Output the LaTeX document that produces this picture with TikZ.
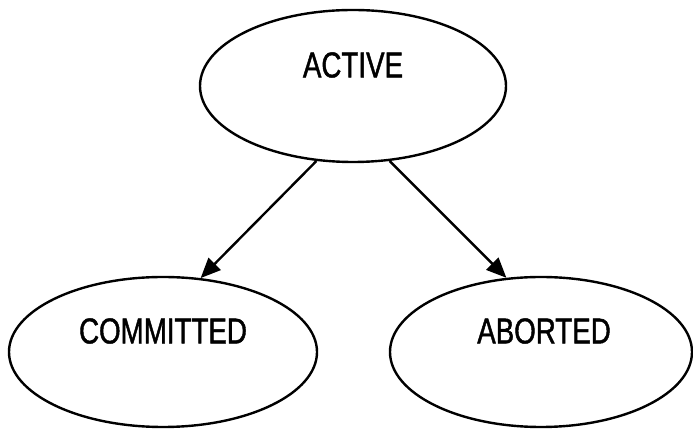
\documentclass[tikz,border=0pt]{standalone}
\usepackage{fontspec}
\newfontfamily\statefont[FakeStretch=0.77,FakeBold=1.2]{Liberation Sans}
\usetikzlibrary{shapes.geometric,arrows.meta}
\begin{document}
\begin{tikzpicture}[x=1pt,y=1pt,
  statebox/.style={draw, ellipse, line width=2.4pt, inner sep=0pt},
  statelabel/.style={font=\statefont\fontsize{36}{36}\selectfont, inner sep=0pt},
  trans/.style={line width=2.4pt, -{Triangle[length=20pt,width=17pt]}}]
  \useasboundingbox (0,0) rectangle (693,430);
  % states
  \node[statebox, minimum width=306pt, minimum height=152pt] (active) at (353,344) {};
  \node[statebox, minimum width=308pt, minimum height=150pt] (committed) at (163,78) {};
  \node[statebox, minimum width=302pt, minimum height=150pt] (aborted) at (541,78) {};
  % state names, set above the centres
  \node[statelabel] (activetxt) at ([yshift=21pt]active.center) {ACTIVE};
  \node[statelabel] (committedtxt) at ([yshift=21pt]committed.center) {COMMITTED};
  \node[statelabel] (abortedtxt) at ([xshift=3pt,yshift=21pt]aborted.center) {ABORTED};
  % transitions
  \draw[trans] (active.244) -- (committed.63);
  \draw[trans] (active.296) -- (aborted.115);
\end{tikzpicture}
\end{document}
